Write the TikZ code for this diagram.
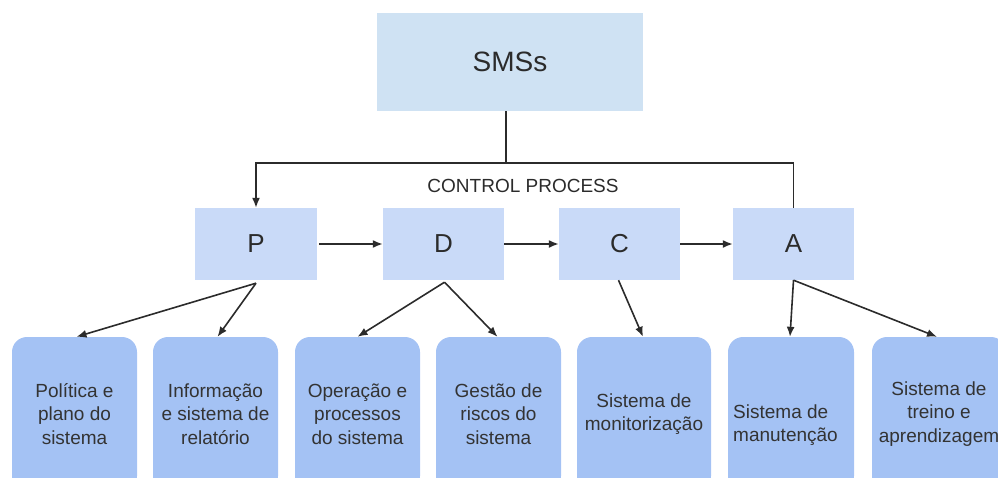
\documentclass[tikz,border=0pt]{standalone}
\usepackage{fontspec}
\setmainfont{Liberation Sans}
\usetikzlibrary{arrows.meta}

\definecolor{topfill}{HTML}{CFE2F3}
\definecolor{stepfill}{HTML}{C9DAF8}
\definecolor{subfill}{HTML}{A4C2F4}
\definecolor{inkgray}{HTML}{2B2B2B}
\definecolor{txtgray}{HTML}{333333}

\tikzset{
  topbox/.style={fill=topfill, draw=none, minimum width=266pt, minimum height=98pt,
    inner sep=0pt, font=\fontsize{28}{32}\selectfont, text=inkgray},
  stepbox/.style={fill=stepfill, draw=none, minimum width=122pt, minimum height=72pt,
    inner sep=0pt, font=\fontsize{26}{30}\selectfont, text=inkgray},
  subbox/.style={fill=subfill, draw=none, rounded corners=15pt, minimum height=154pt,
    inner sep=0pt, align=center, font=\fontsize{19}{23.5}\selectfont, text=txtgray},
  subtext/.style={inner sep=0pt, font=\fontsize{19}{23.5}\selectfont, text=txtgray},
  link/.style={draw=inkgray, line width=1.6pt},
  arr/.style={link, -{Latex[length=10pt,width=8pt]}},
}

\begin{document}
\begin{tikzpicture}[x=1pt,y=-1pt]
  \useasboundingbox (0,0) rectangle (998,477);

  % top level
  \node[topbox] (smss) at (510,62) {SMSs};

  % PDCA cycle
  \node[stepbox] (p) at (256,244) {P};
  \node[stepbox, minimum width=121pt] (d) at (443.5,244) {D};
  \node[stepbox, minimum width=121pt] (c) at (619.5,244) {C};
  \node[stepbox, minimum width=121pt] (a) at (793.5,244) {A};

  \node[inner sep=0pt, font=\fontsize{19}{22}\selectfont, text=inkgray] (cp) at (523,186) {CONTROL PROCESS};

  % subsystems
  \node[subbox, minimum width=125pt] (s1) at (74.5,414) {Política e\\plano do\\sistema};
  \node[subbox, minimum width=125pt] (s2) at (215.5,414) {Informação\\e sistema de\\relatório};
  \node[subbox, minimum width=125pt] (s3) at (357.5,414) {Operação e\\processos\\do sistema};
  \node[subbox, minimum width=125pt] (s4) at (498.5,414) {Gestão de\\riscos do\\sistema};
  \node[subbox, minimum width=134pt] (s5) at (644,414) {Sistema de\\monitorização};
  \node[subbox, minimum width=126pt] (s6) at (791,414) {};
  \node[subtext, align=left, anchor=west] (s6t) at (733,425) {Sistema de\\manutenção};
  \node[subbox, minimum width=134pt] (s7) at (939,414) {Sistema de\\treino e\\aprendizagem};

  % feedback loop from SMSs and A back to P
  \coordinate (bus) at (0,163);
  \draw[link] ([xshift=-4pt]smss.south) -- ([xshift=-4pt]smss.south |- bus);
  \draw[arr] (a.north) -- (a.north |- bus) -- (p.north |- bus) -- (p.north);

  % cycle arrows
  \draw[arr] ([xshift=2pt]p.east) -- (d.west);
  \draw[arr] (d.east) -- (c.west);
  \draw[arr] (c.east) -- (a.west);

  % breakdown arrows
  \draw[arr] ([yshift=-3pt]p.south) -- ([xshift=2pt]s1.north);
  \draw[arr] ([yshift=-3pt]p.south) -- ([xshift=2pt]s2.north);
  \draw[arr] ([xshift=1pt,yshift=-2pt]d.south) -- (s3.north);
  \draw[arr] ([xshift=1pt,yshift=-2pt]d.south) -- ([xshift=-1pt]s4.north);
  \draw[arr] ([xshift=-1pt]c.south) -- ([xshift=-1pt]s5.north);
  \draw[arr] (a.south) -- ([xshift=-1pt]s6.north);
  \draw[arr] (a.south) -- ([xshift=-2pt]s7.north);
\end{tikzpicture}
\end{document}
